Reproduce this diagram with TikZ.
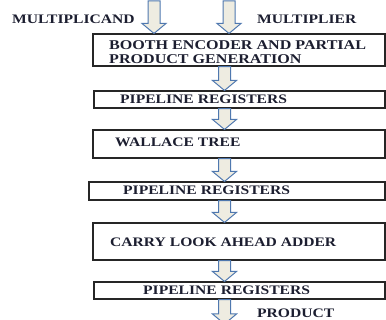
\documentclass[tikz,border=0pt]{standalone}
\usepackage{fontspec}
\usepackage{xcolor}
\usepackage{tikz}
\usetikzlibrary{calc}
\newfontfamily\blockfont[FakeStretch=1.2]{Liberation Serif}
\definecolor{flowBlue}{RGB}{79,120,175}
\definecolor{flowFill}{RGB}{238,236,225}
\definecolor{inkDark}{RGB}{28,30,48}
\tikzstyle{tsLabel} = [
    text=inkDark,
    font=\blockfont\bfseries\fontsize{13}{14}\selectfont,
    inner sep=0pt,
    anchor=west,
    align=left
]
\tikzstyle{tsLabelWide} = [
    tsLabel,
    font=\blockfont\bfseries\fontsize{13.4}{14}\selectfont
]
\tikzstyle{tsStage} = [
    rectangle,
    draw=black!85,
    fill=white,
    line width=1.1pt,
    inner sep=0pt,
    minimum width=292pt]
\tikzstyle{tsFlow} = [
    draw=flowBlue,
    fill=flowFill,
    line width=1pt,
    line join=miter]
\newcommand{\flowArrow}[2]{%
  \draw[tsFlow] let \p1 = #1, \p2 = #2 in
    (\x1-6pt,\y1) -- (\x1+6pt,\y1) -- (\x1+6pt,\y2+10pt) -- (\x1+12pt,\y2+10pt)
    -- (\x1,\y2) -- (\x1-12pt,\y2+10pt) -- (\x1-6pt,\y2+10pt) -- cycle;}

\begin{document}
\begin{tikzpicture}[x=1pt, y=-1pt]

    \useasboundingbox (0,0) rectangle (386,320);
    \clip (0,0) rectangle (386,320);

    \coordinate (spine) at (224.5,0);
    \coordinate (mcandIn) at (154,1);
    \coordinate (mplierIn) at (229,1);
    \coordinate (productOut) at (224.5,324);

    % stages
    \node[tsStage, minimum height=32pt] (booth) at (239,50) {};
    \node[tsStage, minimum height=17pt, minimum width=291pt] (pipeA) at (239.5,99.5) {};
    \node[tsStage, minimum height=28pt] (wallace) at (239,144) {};
    \node[tsStage, minimum height=18pt, minimum width=296pt] (pipeB) at (237,191) {};
    \node[tsStage, minimum height=37pt] (carry) at (239,241.5) {};
    \node[tsStage, minimum height=17pt, minimum width=291pt] (pipeC) at (239.5,290.5) {};

    % texts
    \node[tsLabel] (mcandTxt) at (12,19) {MULTIPLICAND};
    \node[tsLabel] (mplierTxt) at (257,19) {MULTIPLIER};
    \node[tsLabelWide] (boothTxt) at (109,52.5) {BOOTH ENCODER AND PARTIAL\\PRODUCT GENERATION};
    \node[tsLabel] (pipeATxt) at (120,99.5) {PIPELINE REGISTERS};
    \node[tsLabel] (wallaceTxt) at (115,142) {WALLACE TREE};
    \node[tsLabel] (pipeBTxt) at (123,190.5) {PIPELINE REGISTERS};
    \node[tsLabel] (carryTxt) at (110,242) {CARRY LOOK AHEAD ADDER};
    \node[tsLabel] (pipeCTxt) at (143,290.5) {PIPELINE REGISTERS};
    \node[tsLabel] (productTxt) at (257,313.5) {PRODUCT};

    % flow
    \flowArrow{(mcandIn)}{(booth.north -| mcandIn)}
    \flowArrow{(mplierIn)}{(booth.north -| mplierIn)}
    \flowArrow{(booth.south -| spine)}{(pipeA.north -| spine)}
    \flowArrow{(pipeA.south -| spine)}{(wallace.north -| spine)}
    \flowArrow{(wallace.south -| spine)}{(pipeB.north -| spine)}
    \flowArrow{(pipeB.south -| spine)}{(carry.north -| spine)}
    \flowArrow{(carry.south -| spine)}{(pipeC.north -| spine)}
    \flowArrow{(pipeC.south -| spine)}{(productOut)}

\end{tikzpicture}
\end{document}
